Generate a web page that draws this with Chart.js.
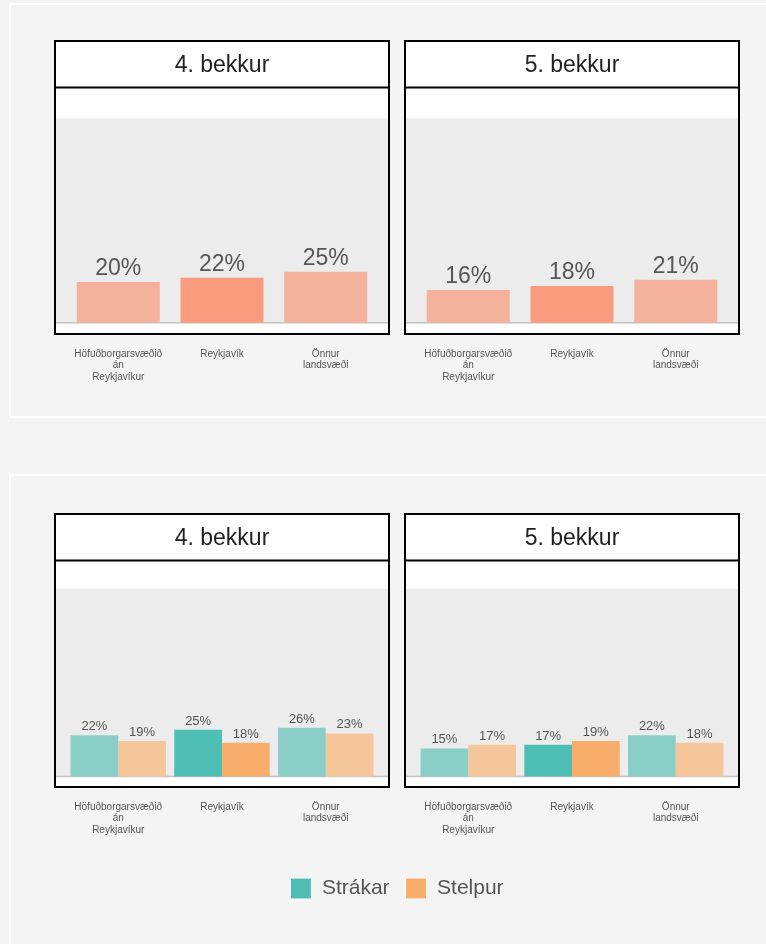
<!DOCTYPE html>
<html>
<head>
<meta charset="utf-8">
<script src="https://cdn.jsdelivr.net/npm/chart.js@4/dist/chart.umd.min.js"></script>
<style>
    body { margin: 0; background: #f4f4f4; width: 766px; height: 944px; overflow: hidden; position: relative; }
    .panel { position: absolute; left: 9px; width: 800px; border: 2px solid #fff; background: #f4f4f4; }
    canvas { position: absolute; }
</style>
</head>
<body>
<div class="panel" style="top: 3px; height: 411px;"></div>
<div class="panel" style="top: 474px; height: 500px;"></div>

<canvas id="top-4" width="356" height="363" style="left: 44px; top: 30px;"></canvas>
<canvas id="top-5" width="356" height="363" style="left: 394px; top: 30px;"></canvas>
<canvas id="bot-4" width="356" height="343" style="left: 44px; top: 503px;"></canvas>
<canvas id="bot-5" width="356" height="343" style="left: 394px; top: 503px;"></canvas>
<canvas id="legend" width="766" height="100" style="left: 14px; top: 862px;"></canvas>

<script>
const categories = [['Höfuðborgarsvæðið', 'án', 'Reykjavíkur'], ['Reykjavík'], ['Önnur', 'landsvæði']];
const grades = ['4. bekkur', '5. bekkur'];

// Heildin (efri röð)
const allGrade4 = [20, 22, 25];
const allGrade5 = [16, 18, 21];

// Eftir kyni (neðri röð)
const seriesNames = ['Strákar', 'Stelpur'];
const boysGrade4 = [22, 25, 26];
const girlsGrade4 = [19, 18, 23];
const boysGrade5 = [15, 17, 22];
const girlsGrade5 = [17, 19, 18];

const highlight = 1; // Reykjavík
const FONT = '"Liberation Sans", Arial, sans-serif';

function barColors(strong, light) {
    return categories.map((c, i) => i === highlight ? strong : light);
}

function toPoints(values) {
    return values.map((v, i) => ({ x: i, y: v }));
}

// draws the facet box: header, white plot, grey band 0-100 and baseline
const facetBox = {
    id: 'facetBox',
    beforeDraw(chart) {
        const ctx = chart.ctx;
        const a = chart.chartArea;
        const y = chart.scales.y;
        const top = chart.titleBlock.top;
        ctx.save();
        ctx.fillStyle = '#fff';
        ctx.fillRect(a.left, top, a.right - a.left, a.bottom - top);
        ctx.fillStyle = '#ececec';
        ctx.fillRect(a.left, y.getPixelForValue(100), a.right - a.left, y.getPixelForValue(0) - y.getPixelForValue(100));
        ctx.strokeStyle = '#c4c4c4';
        ctx.lineWidth = 1.5;
        ctx.beginPath();
        ctx.moveTo(a.left, y.getPixelForValue(0));
        ctx.lineTo(a.right, y.getPixelForValue(0));
        ctx.stroke();
        ctx.strokeStyle = '#000';
        ctx.lineWidth = 2;
        ctx.strokeRect(a.left - 1, top + 1, a.right - a.left + 2, a.bottom - top);
        ctx.beginPath();
        ctx.moveTo(a.left, a.top);
        ctx.lineTo(a.right, a.top);
        ctx.stroke();
        ctx.restore();
    }
};

// percent labels above each bar
const valueLabels = {
    id: 'valueLabels',
    afterDatasetsDraw(chart, args, opts) {
        const ctx = chart.ctx;
        ctx.save();
        ctx.font = opts.size + 'px ' + FONT;
        ctx.fillStyle = '#555';
        ctx.textAlign = 'center';
        ctx.textBaseline = 'alphabetic';
        chart.data.datasets.forEach((ds, d) => {
            chart.getDatasetMeta(d).data.forEach((bar, i) => {
                ctx.fillText(ds.data[i].y + '%', bar.x, bar.y - opts.gap);
            });
        });
        ctx.restore();
    }
};

function makeFacet(id, title, datasets, catPct, labelSize, labelGap) {
    new Chart(document.getElementById(id), {
        type: 'bar',
        data: { datasets: datasets },
        plugins: [facetBox, valueLabels],
        options: {
            responsive: false,
            animation: false,
            devicePixelRatio: 1,
            layout: { padding: { top: 10, left: 12, right: 12, bottom: 0 } },
            datasets: { bar: { categoryPercentage: catPct, barPercentage: 1 } },
            plugins: {
                legend: { display: false },
                tooltip: { enabled: false },
                title: {
                    display: true,
                    text: title,
                    color: '#222',
                    font: { family: FONT, size: 23, weight: 'normal', lineHeight: 1.2 },
                    padding: { top: 12, bottom: 8 }
                },
                valueLabels: { size: labelSize, gap: labelGap }
            },
            scales: {
                x: {
                    type: 'linear',
                    offset: false,
                    min: -0.6,
                    max: 2.6,
                    afterBuildTicks: (axis) => { axis.ticks = categories.map((c, i) => ({ value: i })); },
                    afterFit: (axis) => { axis.height = 60; },
                    grid: { display: false, offset: false },
                    border: { display: false },
                    ticks: {
                        autoSkip: false,
                        maxRotation: 0,
                        padding: 7,
                        color: '#555',
                        font: { family: FONT, size: 10, lineHeight: 1.17 },
                        callback: (value) => categories[value]
                    }
                },
                y: { display: false, min: -5, max: 115 }
            }
        }
    });
}

const salmon = '#f99b7d', salmonLight = '#f4b19b';
const teal = '#4ebdb3', tealLight = '#8acfc7';
const orange = '#f9ad6b', orangeLight = '#f6c69b';

makeFacet('top-4', grades[0], [
    { data: toPoints(allGrade4), backgroundColor: barColors(salmon, salmonLight) }
], 0.8, 23, 7);
makeFacet('top-5', grades[1], [
    { data: toPoints(allGrade5), backgroundColor: barColors(salmon, salmonLight) }
], 0.8, 23, 7);
makeFacet('bot-4', grades[0], [
    { label: seriesNames[0], data: toPoints(boysGrade4), backgroundColor: barColors(teal, tealLight) },
    { label: seriesNames[1], data: toPoints(girlsGrade4), backgroundColor: barColors(orange, orangeLight) }
], 0.92, 13, 5);
makeFacet('bot-5', grades[1], [
    { label: seriesNames[0], data: toPoints(boysGrade5), backgroundColor: barColors(teal, tealLight) },
    { label: seriesNames[1], data: toPoints(girlsGrade5), backgroundColor: barColors(orange, orangeLight) }
], 0.92, 13, 5);

// shared legend for the lower row
new Chart(document.getElementById('legend'), {
    type: 'bar',
    data: {
        labels: [],
        datasets: [
            { label: seriesNames[0], data: [], backgroundColor: teal, borderColor: '#fff', borderWidth: 1 },
            { label: seriesNames[1], data: [], backgroundColor: orange, borderColor: '#fff', borderWidth: 1 }
        ]
    },
    options: {
        responsive: false,
        animation: false,
        devicePixelRatio: 1,
        plugins: {
            tooltip: { enabled: false },
            legend: {
                position: 'top',
                onClick: null,
                labels: {
                    boxWidth: 21,
                    boxHeight: 21,
                    padding: 16,
                    color: '#555',
                    font: { family: FONT, size: 21 }
                }
            }
        },
        scales: { x: { display: false }, y: { display: false } }
    }
});
</script>
</body>
</html>
